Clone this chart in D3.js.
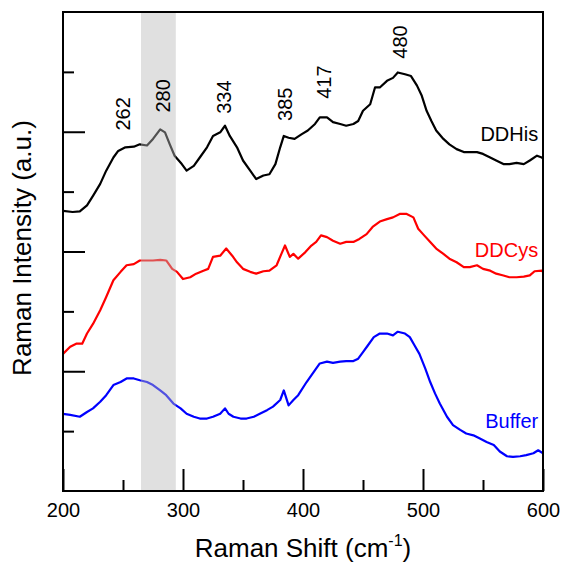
<!DOCTYPE html>
<html>
<head>
<meta charset="utf-8">
<script src="https://cdn.jsdelivr.net/npm/d3@7"></script>
<style>
  body { margin: 0; background: #fff; }
  svg { display: block; font-family: Arial, "Liberation Sans", sans-serif; }
</style>
</head>
<body>
<svg width="562" height="563"></svg>
<script>
// Raman shift (cm-1) and intensities (offset a.u.)
const hisShift = [200,208,214,220,225,231,236,242,246,252,259,264,270,275,281,285,289,293,299,303,309,314,320,325,331,335,339,345,350,356,361,367,372,377,381,384,388,393,399,404,410,414,420,425,431,436,442,446,450,456,460,464,470,475,479,485,490,495,499,503,507,511,517,522,528,534,539,545,550,556,561,567,572,578,584,589,595,599,600];
const hisValue = [4.68,4.66,4.67,4.77,4.93,5.13,5.35,5.57,5.68,5.74,5.75,5.79,5.77,5.88,6.04,5.99,5.79,5.6,5.46,5.35,5.43,5.57,5.74,5.93,5.99,6.1,5.93,5.74,5.52,5.35,5.21,5.27,5.29,5.46,5.74,5.93,5.9,5.88,5.96,6.02,6.13,6.24,6.24,6.16,6.13,6.1,6.13,6.18,6.35,6.46,6.74,6.74,6.85,6.9,6.99,6.96,6.93,6.77,6.6,6.35,6.18,6.02,5.88,5.79,5.71,5.66,5.66,5.66,5.63,5.57,5.52,5.46,5.46,5.48,5.46,5.52,5.6,5.57,5.55];

const cysShift = [200,206,211,216,220,225,231,236,242,248,253,259,264,270,275,281,286,291,295,300,306,311,317,321,325,331,336,341,345,350,356,361,367,372,378,382,385,389,392,396,402,407,411,415,420,425,431,436,442,447,453,458,464,470,475,481,486,492,496,500,506,511,517,522,528,534,539,545,550,556,561,567,572,578,584,589,593,599,600];
const cysValue = [2.29,2.41,2.46,2.46,2.63,2.79,3.02,3.24,3.52,3.66,3.77,3.79,3.85,3.85,3.85,3.86,3.85,3.71,3.66,3.54,3.57,3.63,3.68,3.71,3.91,3.93,4.05,3.93,3.82,3.71,3.66,3.63,3.67,3.68,3.77,3.96,4.1,3.91,3.96,3.88,3.99,4.1,4.16,4.27,4.24,4.18,4.13,4.16,4.16,4.21,4.29,4.41,4.5,4.54,4.57,4.63,4.63,4.57,4.38,4.29,4.16,4.05,3.96,3.88,3.82,3.74,3.74,3.77,3.71,3.68,3.63,3.6,3.57,3.57,3.58,3.6,3.67,3.68,3.66];

const bufShift = [200,206,214,220,225,231,236,242,248,253,259,264,270,275,281,286,292,298,303,309,314,320,325,331,335,338,342,348,353,359,364,370,375,381,384,388,392,396,403,409,414,420,425,431,436,442,446,450,454,459,464,470,475,479,485,489,493,497,502,506,510,514,520,525,531,536,542,547,553,559,564,570,575,581,586,592,596,600];
const bufValue = [1.29,1.27,1.24,1.32,1.38,1.49,1.6,1.77,1.82,1.88,1.88,1.85,1.82,1.77,1.68,1.6,1.46,1.38,1.29,1.24,1.21,1.21,1.24,1.29,1.38,1.29,1.24,1.21,1.21,1.24,1.29,1.35,1.41,1.52,1.68,1.43,1.52,1.6,1.82,1.99,2.13,2.16,2.14,2.16,2.17,2.17,2.21,2.32,2.43,2.57,2.63,2.63,2.6,2.66,2.63,2.57,2.43,2.29,2.04,1.82,1.63,1.46,1.24,1.1,1.02,0.96,0.93,0.88,0.82,0.77,0.66,0.58,0.57,0.58,0.6,0.63,0.68,0.63];

const seriesNames = ["DDHis", "DDCys", "Buffer"];
const seriesColors = ["#000000", "#ff0000", "#0000ff"];

// peak labels: text, shift position, intensity position (bottom of label)
const peakText = ["262", "280", "334", "385", "417", "480"];
const peakX = [250, 283, 334, 385, 417, 481];
const peakY = [6.02, 6.32, 6.3, 6.18, 6.55, 7.22];

// series label positions (right edge shift, baseline intensity)
const nameX = [596, 596, 596];
const nameY = [5.85, 3.9, 1.05];

const bandRange = [265, 294];
const xTicks = [200, 300, 400, 500, 600];
const xMinor = [250, 350, 450, 550];
const yMajor = [2, 4, 6];
const yMinor = [1, 3, 5, 7];

const margin = { left: 63, top: 12, right: 19, bottom: 72 };
const width = 562, height = 563;
const svg = d3.select("svg");

const x = d3.scaleLinear().domain([200, 600]).range([margin.left, width - margin.right]);
const y = d3.scaleLinear().domain([0, 8]).range([height - margin.bottom, margin.top]);

const line = d3.line().x((d) => x(d[0])).y((d) => y(d[1]));
const data = [
  d3.zip(hisShift, hisValue),
  d3.zip(cysShift, cysValue),
  d3.zip(bufShift, bufValue),
];

svg.append("defs").append("clipPath").attr("id", "clip")
  .append("rect")
  .attr("x", x(200)).attr("y", y(8))
  .attr("width", x(600) - x(200)).attr("height", y(0) - y(8));

const plot = svg.append("g").attr("clip-path", "url(#clip)");
data.forEach((d, i) => {
  plot.append("path")
    .datum(d)
    .attr("d", line)
    .attr("fill", "none")
    .attr("stroke", seriesColors[i])
    .attr("stroke-width", 2.2)
    .attr("stroke-linejoin", "round");
});

// grey band drawn over the lines
svg.append("rect")
  .attr("x", x(bandRange[0]))
  .attr("y", y(8))
  .attr("width", x(bandRange[1]) - x(bandRange[0]))
  .attr("height", y(0) - y(8))
  .attr("fill", "#b8b8b8")
  .attr("opacity", 0.44);

// frame
svg.append("rect")
  .attr("x", x(200)).attr("y", y(8))
  .attr("width", x(600) - x(200)).attr("height", y(0) - y(8))
  .attr("fill", "none").attr("stroke", "#000").attr("stroke-width", 2);

// x axis
const xAxis = svg.append("g")
  .attr("transform", "translate(0," + y(0) + ")")
  .call(d3.axisBottom(x).tickValues(xTicks).tickSize(-22).tickPadding(12).tickFormat(d3.format("d")));
xAxis.select(".domain").remove();
xAxis.selectAll(".tick line").attr("stroke-width", 2);
xAxis.selectAll("text").attr("font-size", 20).attr("font-family", "Arial, 'Liberation Sans', sans-serif").attr("fill", "#000");

const xAxisMinor = svg.append("g")
  .attr("transform", "translate(0," + y(0) + ")")
  .call(d3.axisBottom(x).tickValues(xMinor).tickSize(-11).tickFormat(""));
xAxisMinor.select(".domain").remove();
xAxisMinor.selectAll(".tick line").attr("stroke-width", 2);

// y axis (no labels)
const yAxis = svg.append("g")
  .attr("transform", "translate(" + x(200) + ",0)")
  .call(d3.axisLeft(y).tickValues(yMajor).tickSize(-22).tickFormat(""));
yAxis.select(".domain").remove();
yAxis.selectAll(".tick line").attr("stroke-width", 2);
const yAxisMinor = svg.append("g")
  .attr("transform", "translate(" + x(200) + ",0)")
  .call(d3.axisLeft(y).tickValues(yMinor).tickSize(-11).tickFormat(""));
yAxisMinor.select(".domain").remove();
yAxisMinor.selectAll(".tick line").attr("stroke-width", 2);

// peak labels
peakText.forEach((t, i) => {
  svg.append("text")
    .attr("transform", "translate(" + x(peakX[i]) + "," + y(peakY[i]) + ") rotate(-90)")
    .attr("dy", "0.36em")
    .attr("font-size", 20)
    .attr("fill", "#000")
    .text(t);
});

// series names
seriesNames.forEach((n, i) => {
  svg.append("text")
    .attr("x", x(nameX[i]))
    .attr("y", y(nameY[i]))
    .attr("text-anchor", "end")
    .attr("font-size", 20)
    .attr("fill", seriesColors[i])
    .text(n);
});

// axis titles
const xt = svg.append("text")
  .attr("x", 303)
  .attr("y", 557)
  .attr("text-anchor", "middle")
  .attr("font-size", 26)
  .text("Raman Shift (cm");
xt.append("tspan").attr("font-size", 16).attr("dy", -11).text("-1");
xt.append("tspan").attr("dy", 11).text(")");

svg.append("text")
  .attr("transform", "translate(31,248) rotate(-90)")
  .attr("text-anchor", "middle")
  .attr("font-size", 26)
  .text("Raman Intensity (a.u.)");
</script>
</body>
</html>
